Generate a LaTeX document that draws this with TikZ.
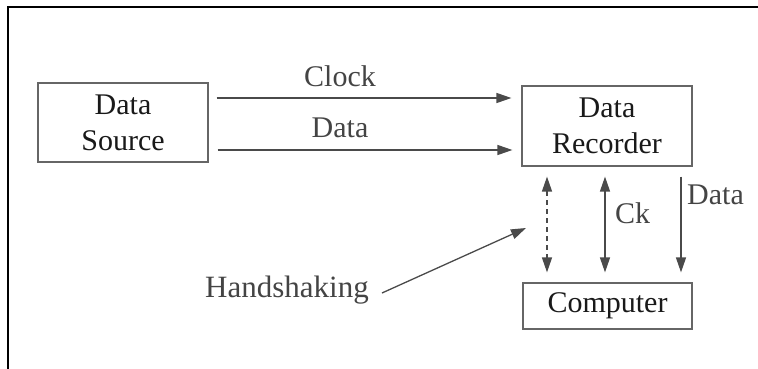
\documentclass[tikz,border=0pt]{standalone}
\usepackage{fontspec}
\setmainfont{Liberation Serif}
\usetikzlibrary{arrows.meta}
\definecolor{linegray}{HTML}{4A4A4A}
\definecolor{boxgray}{HTML}{666666}
\definecolor{labelgray}{HTML}{444444}
\tikzset{
  blk/.style={draw=boxgray, line width=1.2pt, minimum width=170pt, align=center,
              text=black!90, inner sep=0pt},
  tip/.tip={Triangle[length=15pt,width=10pt]},
  sig/.style={draw=linegray, line width=1.3pt, -tip},
  bisig/.style={draw=linegray, line width=1.3pt, tip-tip},
  lbl/.style={text=labelgray, inner sep=0pt},
}
\begin{document}
\begin{tikzpicture}[x=1pt, y=-1pt, font=\fontsize{30}{36}\selectfont]
  \useasboundingbox (0,0) rectangle (758,369);
  % outer frame (top and left edges)
  \draw[line width=2pt] (8,369) -- (8,7) -- (758,7);

  % blocks
  \node[blk, minimum height=79pt] (src) at (123,122.5) {Data\\Source};
  \node[blk, minimum height=80pt] (rec) at (607,126) {Data\\Recorder};
  \node[blk, minimum width=169pt, minimum height=46pt] (comp) at (607.5,306) {Computer};

  % source to recorder
  \draw[sig, shorten <=8pt, shorten >=10pt] (src.east |- 0,98) -- (rec.west |- 0,98);
  \draw[sig, shorten <=9pt, shorten >=9pt] (src.east |- 0,150) -- (rec.west |- 0,150);
  \node[lbl] (lclk) at (340,76) {Clock};
  \node[lbl] (ldat) at (340,128) {Data};

  % recorder <-> computer
  \draw[bisig, dash pattern=on 5pt off 4pt, shorten <=10pt, shorten >=10pt]
    (rec.south -| 547,0) -- (comp.north -| 547,0);
  \draw[bisig, shorten <=10pt, shorten >=10pt]
    (rec.south -| 605,0) -- (comp.north -| 605,0);
  \draw[sig, shorten <=10pt, shorten >=10pt]
    (rec.south -| 681,0) -- (comp.north -| 681,0);
  \node[lbl, anchor=west] (lck) at (615,213) {Ck};
  \node[lbl, anchor=west] (ldat2) at (687,195) {Data};

  % handshaking pointer
  \node[lbl, font=\fontsize{31}{36}\selectfont] (hs) at (287,290) {Handshaking};
  \coordinate (hstip) at (526,228);
  \draw[sig] ([xshift=13pt,yshift=-3pt]hs.east) -- (hstip);
\end{tikzpicture}
\end{document}
